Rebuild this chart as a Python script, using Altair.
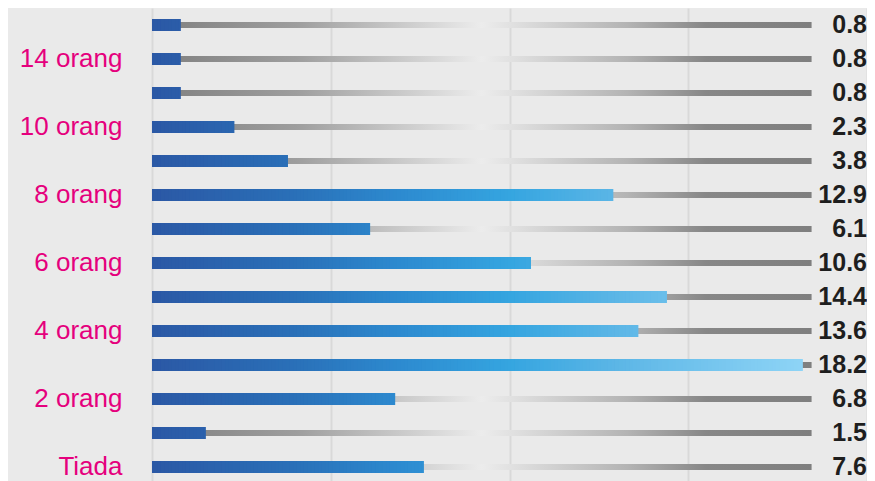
import altair as alt
import pandas as pd

# Rows from bottom to top
categories = ["Tiada", "1 orang", "2 orang", "3 orang", "4 orang", "5 orang", "6 orang",
              "7 orang", "8 orang", "9 orang", "10 orang", "11-13 orang", "14 orang", "15+ orang"]
tick_labels = ["Tiada", "", "2 orang", "", "4 orang", "", "6 orang",
               "", "8 orang", "", "10 orang", "", "14 orang", ""]
values = [7.6, 1.5, 6.8, 18.2, 13.6, 14.4, 10.6, 6.1, 12.9, 3.8, 2.3, 0.8, 0.8, 0.8]
value_labels = ["7.6", "1.5", "6.8", "18.2", "13.6", "14.4", "10.6", "6.1", "12.9", "3.8",
                "2.3", "0.8", "0.8", "0.8"]

df = pd.DataFrame({"cat": categories, "val": values, "lab": value_labels})

PLOT_W = 715
X_MAX = 20
# two interleaved sets of contiguous slices per bar (second set shifted by half a
# slice) so the blue gradient follows x position and the seams of one set are
# covered by the other
STEP = 0.1
seg_rows = []
for c, v in zip(categories, values):
    for phase in (0.0, 0.5):
        edges = [0.0]
        k = phase if phase > 0 else 1.0
        while k * STEP < v - 1e-9:
            edges.append(k * STEP)
            k += 1.0
        edges.append(v)
        for a, b in zip(edges[:-1], edges[1:]):
            seg_rows.append({"cat": c, "x0": a, "x1": b, "mid": (a + b) / 2})
seg = pd.DataFrame(seg_rows)

order_top_down = categories[::-1]
label_expr = "[" + ",".join("'%s'" % t for t in tick_labels) + "][indexof([" + \
    ",".join("'%s'" % c for c in categories) + "], datum.value)]"

y_enc = alt.Y("cat:N", sort=order_top_down,
              scale=alt.Scale(paddingInner=0, paddingOuter=0),
              axis=alt.Axis(title=None, ticks=False, domain=False, grid=False,
                            labelExpr=label_expr, labelFontSize=26, labelColor="#e5007d",
                            labelFont="Liberation Sans", labelPadding=30, labelLimit=300))

x_scale = alt.Scale(domain=[0, X_MAX], nice=False, zero=True)
x_axis = alt.Axis(title=None, labels=False, ticks=False, domain=False, grid=True,
                  values=[0, 5, 10, 15, 20], gridColor="#d9d9d9", gridWidth=2)

track_grad = alt.LinearGradient(
    gradient="linear", x1=0, x2=1, y1=0, y2=0,
    stops=[alt.GradientStop(color="#7f7f7f", offset=0.0),
           alt.GradientStop(color="#9e9e9e", offset=0.22),
           alt.GradientStop(color="#ececec", offset=0.5),
           alt.GradientStop(color="#b4b4b4", offset=0.72),
           alt.GradientStop(color="#878787", offset=0.84),
           alt.GradientStop(color="#7f7f7f", offset=1.0)])

track = alt.Chart(df).transform_calculate(t0="0", t1="18.45").mark_bar(
    size=6, color=track_grad).encode(
    y=y_enc,
    x=alt.X("t0:Q", scale=x_scale, axis=x_axis),
    x2="t1:Q",
)

bars = alt.Chart(seg).mark_bar(size=12).encode(
    y=y_enc,
    x=alt.X("x0:Q", scale=x_scale, axis=x_axis),
    x2="x1:Q",
    color=alt.Color("mid:Q", legend=None,
                    scale=alt.Scale(domain=[0, 4, 7, 10, 13, 18.2],
                                    range=["#2b58a5", "#2a70b8", "#2d8bd0", "#35a5e0",
                                           "#5cb6e6", "#8ed4f6"],
                                    interpolate="rgb")),
)

texts = alt.Chart(df).transform_calculate(tx="20").mark_text(
    align="right", baseline="middle", fontSize=25, fontWeight="bold",
    font="Liberation Sans", color="#1e1e1e", dx=0).encode(
    y=y_enc,
    x=alt.X("tx:Q", scale=x_scale, axis=x_axis),
    text="lab:N",
)

chart = alt.layer(track, bars, texts).properties(
    width=PLOT_W,
    height=alt.Step(34.0),
    padding={"left": 144, "top": 0, "right": 0, "bottom": 0},
    autosize=alt.AutoSizeParams(type="none"),
    background="#eaeaea",
).configure_view(strokeWidth=0)

chart.save("out.html", embed_options={"renderer": "svg", "actions": False})
